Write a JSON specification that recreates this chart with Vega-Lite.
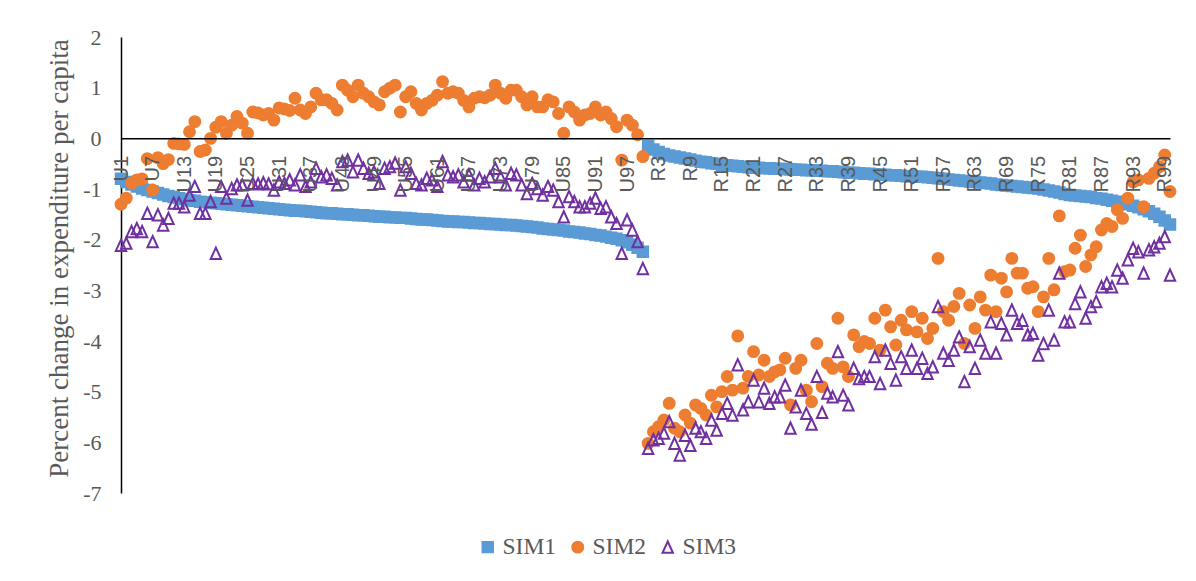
{
  "$schema": "https://vega.github.io/schema/vega-lite/v6.json",
  "width": 1049,
  "height": 456,
  "autosize": {"type": "none"},
  "padding": {"left": 121, "top": 37, "right": 26, "bottom": 88},
  "background": "white",
  "config": {
    "view": {"stroke": null},
    "legend": {
      "labelFont": "Liberation Serif", "labelFontSize": 23.5, "labelColor": "#595959",
      "labelOffset": 3, "columnPadding": 9, "symbolStrokeWidth": 2, "symbolSize": 120
    }
  },
  "data": {"values": [
    {"r":"U1","SIM1":-0.80,"SIM2":-1.30,"SIM3":-2.11},
    {"r":"U2","SIM1":-0.86,"SIM2":-1.18,"SIM3":-2.07},
    {"r":"U3","SIM1":-0.91,"SIM2":-0.88,"SIM3":-1.84},
    {"r":"U4","SIM1":-0.95,"SIM2":-0.82,"SIM3":-1.78},
    {"r":"U5","SIM1":-0.99,"SIM2":-0.80,"SIM3":-1.84},
    {"r":"U6","SIM1":-1.02,"SIM2":-0.40,"SIM3":-1.48},
    {"r":"U7","SIM1":-1.05,"SIM2":-1.02,"SIM3":-2.04},
    {"r":"U8","SIM1":-1.08,"SIM2":-0.38,"SIM3":-1.51},
    {"r":"U9","SIM1":-1.11,"SIM2":-0.50,"SIM3":-1.71},
    {"r":"U10","SIM1":-1.14,"SIM2":-0.42,"SIM3":-1.58},
    {"r":"U11","SIM1":-1.16,"SIM2":-0.10,"SIM3":-1.28},
    {"r":"U12","SIM1":-1.18,"SIM2":-0.11,"SIM3":-1.28},
    {"r":"U13","SIM1":-1.20,"SIM2":-0.12,"SIM3":-1.35},
    {"r":"U14","SIM1":-1.22,"SIM2":0.13,"SIM3":-1.12},
    {"r":"U15","SIM1":-1.23,"SIM2":0.33,"SIM3":-0.95},
    {"r":"U16","SIM1":-1.25,"SIM2":-0.26,"SIM3":-1.48},
    {"r":"U17","SIM1":-1.26,"SIM2":-0.23,"SIM3":-1.48},
    {"r":"U18","SIM1":-1.27,"SIM2":0.00,"SIM3":-1.25},
    {"r":"U19","SIM1":-1.28,"SIM2":0.22,"SIM3":-2.27},
    {"r":"U20","SIM1":-1.29,"SIM2":0.33,"SIM3":-0.95},
    {"r":"U21","SIM1":-1.30,"SIM2":0.10,"SIM3":-1.18},
    {"r":"U22","SIM1":-1.31,"SIM2":0.26,"SIM3":-0.99},
    {"r":"U23","SIM1":-1.32,"SIM2":0.43,"SIM3":-0.92},
    {"r":"U24","SIM1":-1.33,"SIM2":0.30,"SIM3":-0.92},
    {"r":"U25","SIM1":-1.34,"SIM2":0.10,"SIM3":-1.22},
    {"r":"U26","SIM1":-1.35,"SIM2":0.52,"SIM3":-0.89},
    {"r":"U27","SIM1":-1.36,"SIM2":0.50,"SIM3":-0.90},
    {"r":"U28","SIM1":-1.37,"SIM2":0.46,"SIM3":-0.88},
    {"r":"U29","SIM1":-1.38,"SIM2":0.49,"SIM3":-0.90},
    {"r":"U30","SIM1":-1.39,"SIM2":0.36,"SIM3":-1.02},
    {"r":"U31","SIM1":-1.40,"SIM2":0.60,"SIM3":-0.86},
    {"r":"U32","SIM1":-1.41,"SIM2":0.58,"SIM3":-0.89},
    {"r":"U33","SIM1":-1.42,"SIM2":0.55,"SIM3":-0.82},
    {"r":"U34","SIM1":-1.43,"SIM2":0.79,"SIM3":-0.92},
    {"r":"U35","SIM1":-1.43,"SIM2":0.56,"SIM3":-0.72},
    {"r":"U36","SIM1":-1.44,"SIM2":0.49,"SIM3":-0.95},
    {"r":"U37","SIM1":-1.45,"SIM2":0.62,"SIM3":-0.86},
    {"r":"U38","SIM1":-1.46,"SIM2":0.89,"SIM3":-0.59},
    {"r":"U39","SIM1":-1.47,"SIM2":0.76,"SIM3":-0.76},
    {"r":"U40","SIM1":-1.48,"SIM2":0.76,"SIM3":-0.72},
    {"r":"U41","SIM1":-1.48,"SIM2":0.69,"SIM3":-0.79},
    {"r":"U42","SIM1":-1.49,"SIM2":0.56,"SIM3":-0.92},
    {"r":"U43","SIM1":-1.50,"SIM2":1.05,"SIM3":-0.46},
    {"r":"U44","SIM1":-1.50,"SIM2":0.95,"SIM3":-0.43},
    {"r":"U45","SIM1":-1.51,"SIM2":0.82,"SIM3":-0.66},
    {"r":"U46","SIM1":-1.52,"SIM2":1.05,"SIM3":-0.43},
    {"r":"U47","SIM1":-1.52,"SIM2":0.89,"SIM3":-0.59},
    {"r":"U48","SIM1":-1.53,"SIM2":0.82,"SIM3":-0.69},
    {"r":"U49","SIM1":-1.54,"SIM2":0.72,"SIM3":-0.66},
    {"r":"U50","SIM1":-1.55,"SIM2":0.66,"SIM3":-0.89},
    {"r":"U51","SIM1":-1.55,"SIM2":0.92,"SIM3":-0.59},
    {"r":"U52","SIM1":-1.56,"SIM2":0.99,"SIM3":-0.56},
    {"r":"U53","SIM1":-1.56,"SIM2":1.05,"SIM3":-0.49},
    {"r":"U54","SIM1":-1.57,"SIM2":0.52,"SIM3":-1.02},
    {"r":"U55","SIM1":-1.57,"SIM2":0.82,"SIM3":-0.56},
    {"r":"U56","SIM1":-1.58,"SIM2":0.92,"SIM3":-0.69},
    {"r":"U57","SIM1":-1.59,"SIM2":0.69,"SIM3":-0.89},
    {"r":"U58","SIM1":-1.60,"SIM2":0.56,"SIM3":-0.92},
    {"r":"U59","SIM1":-1.60,"SIM2":0.69,"SIM3":-0.79},
    {"r":"U60","SIM1":-1.61,"SIM2":0.75,"SIM3":-0.82},
    {"r":"U61","SIM1":-1.62,"SIM2":0.85,"SIM3":-0.95},
    {"r":"U62","SIM1":-1.63,"SIM2":1.12,"SIM3":-0.46},
    {"r":"U63","SIM1":-1.64,"SIM2":0.89,"SIM3":-0.72},
    {"r":"U64","SIM1":-1.64,"SIM2":0.92,"SIM3":-0.76},
    {"r":"U65","SIM1":-1.65,"SIM2":0.89,"SIM3":-0.72},
    {"r":"U66","SIM1":-1.65,"SIM2":0.75,"SIM3":-0.86},
    {"r":"U67","SIM1":-1.66,"SIM2":0.62,"SIM3":-0.72},
    {"r":"U68","SIM1":-1.67,"SIM2":0.79,"SIM3":-0.92},
    {"r":"U69","SIM1":-1.67,"SIM2":0.82,"SIM3":-0.79},
    {"r":"U70","SIM1":-1.68,"SIM2":0.80,"SIM3":-0.86},
    {"r":"U71","SIM1":-1.69,"SIM2":0.85,"SIM3":-0.76},
    {"r":"U72","SIM1":-1.69,"SIM2":1.05,"SIM3":-0.59},
    {"r":"U73","SIM1":-1.70,"SIM2":0.89,"SIM3":-0.76},
    {"r":"U74","SIM1":-1.71,"SIM2":0.79,"SIM3":-0.92},
    {"r":"U75","SIM1":-1.71,"SIM2":0.95,"SIM3":-0.69},
    {"r":"U76","SIM1":-1.72,"SIM2":0.95,"SIM3":-0.72},
    {"r":"U77","SIM1":-1.73,"SIM2":0.82,"SIM3":-0.92},
    {"r":"U78","SIM1":-1.74,"SIM2":0.66,"SIM3":-1.09},
    {"r":"U79","SIM1":-1.75,"SIM2":0.82,"SIM3":-0.89},
    {"r":"U80","SIM1":-1.76,"SIM2":0.62,"SIM3":-0.99},
    {"r":"U81","SIM1":-1.78,"SIM2":0.62,"SIM3":-1.12},
    {"r":"U82","SIM1":-1.79,"SIM2":0.76,"SIM3":-0.95},
    {"r":"U83","SIM1":-1.80,"SIM2":0.72,"SIM3":-1.02},
    {"r":"U84","SIM1":-1.81,"SIM2":0.49,"SIM3":-1.25},
    {"r":"U85","SIM1":-1.82,"SIM2":0.10,"SIM3":-1.55},
    {"r":"U86","SIM1":-1.84,"SIM2":0.62,"SIM3":-1.15},
    {"r":"U87","SIM1":-1.85,"SIM2":0.52,"SIM3":-1.25},
    {"r":"U88","SIM1":-1.86,"SIM2":0.36,"SIM3":-1.35},
    {"r":"U89","SIM1":-1.88,"SIM2":0.46,"SIM3":-1.35},
    {"r":"U90","SIM1":-1.89,"SIM2":0.49,"SIM3":-1.28},
    {"r":"U91","SIM1":-1.91,"SIM2":0.62,"SIM3":-1.18},
    {"r":"U92","SIM1":-1.92,"SIM2":0.46,"SIM3":-1.38},
    {"r":"U93","SIM1":-1.94,"SIM2":0.52,"SIM3":-1.35},
    {"r":"U94","SIM1":-1.96,"SIM2":0.39,"SIM3":-1.55},
    {"r":"U95","SIM1":-1.98,"SIM2":0.23,"SIM3":-1.68},
    {"r":"U96","SIM1":-2.01,"SIM2":-0.43,"SIM3":-2.27},
    {"r":"U97","SIM1":-2.05,"SIM2":0.36,"SIM3":-1.61},
    {"r":"U98","SIM1":-2.10,"SIM2":0.26,"SIM3":-1.81},
    {"r":"U99","SIM1":-2.16,"SIM2":0.07,"SIM3":-2.04},
    {"r":"U100","SIM1":-2.24,"SIM2":-0.36,"SIM3":-2.57},
    {"r":"R1","SIM1":-0.15,"SIM2":-6.02,"SIM3":-6.12},
    {"r":"R2","SIM1":-0.22,"SIM2":-5.79,"SIM3":-5.95},
    {"r":"R3","SIM1":-0.27,"SIM2":-5.69,"SIM3":-5.92},
    {"r":"R4","SIM1":-0.31,"SIM2":-5.56,"SIM3":-5.82},
    {"r":"R5","SIM1":-0.34,"SIM2":-5.23,"SIM3":-5.59},
    {"r":"R6","SIM1":-0.36,"SIM2":-5.72,"SIM3":-6.02},
    {"r":"R7","SIM1":-0.38,"SIM2":-5.79,"SIM3":-6.25},
    {"r":"R8","SIM1":-0.40,"SIM2":-5.46,"SIM3":-5.86},
    {"r":"R9","SIM1":-0.42,"SIM2":-5.62,"SIM3":-6.06},
    {"r":"R10","SIM1":-0.44,"SIM2":-5.26,"SIM3":-5.72},
    {"r":"R11","SIM1":-0.46,"SIM2":-5.33,"SIM3":-5.79},
    {"r":"R12","SIM1":-0.47,"SIM2":-5.46,"SIM3":-5.92},
    {"r":"R13","SIM1":-0.49,"SIM2":-5.07,"SIM3":-5.56},
    {"r":"R14","SIM1":-0.50,"SIM2":-5.30,"SIM3":-5.76},
    {"r":"R15","SIM1":-0.52,"SIM2":-5.00,"SIM3":-5.43},
    {"r":"R16","SIM1":-0.53,"SIM2":-4.70,"SIM3":-5.23},
    {"r":"R17","SIM1":-0.54,"SIM2":-4.97,"SIM3":-5.46},
    {"r":"R18","SIM1":-0.55,"SIM2":-3.90,"SIM3":-4.47},
    {"r":"R19","SIM1":-0.56,"SIM2":-4.93,"SIM3":-5.36},
    {"r":"R20","SIM1":-0.57,"SIM2":-4.70,"SIM3":-5.20},
    {"r":"R21","SIM1":-0.58,"SIM2":-4.21,"SIM3":-4.77},
    {"r":"R22","SIM1":-0.58,"SIM2":-4.67,"SIM3":-5.20},
    {"r":"R23","SIM1":-0.59,"SIM2":-4.38,"SIM3":-4.93},
    {"r":"R24","SIM1":-0.59,"SIM2":-4.70,"SIM3":-5.23},
    {"r":"R25","SIM1":-0.60,"SIM2":-4.61,"SIM3":-5.10},
    {"r":"R26","SIM1":-0.60,"SIM2":-4.57,"SIM3":-5.10},
    {"r":"R27","SIM1":-0.61,"SIM2":-4.34,"SIM3":-4.87},
    {"r":"R28","SIM1":-0.61,"SIM2":-5.26,"SIM3":-5.72},
    {"r":"R29","SIM1":-0.62,"SIM2":-4.54,"SIM3":-5.30},
    {"r":"R30","SIM1":-0.62,"SIM2":-4.38,"SIM3":-4.97},
    {"r":"R31","SIM1":-0.63,"SIM2":-4.97,"SIM3":-5.43},
    {"r":"R32","SIM1":-0.63,"SIM2":-5.20,"SIM3":-5.64},
    {"r":"R33","SIM1":-0.64,"SIM2":-4.05,"SIM3":-4.70},
    {"r":"R34","SIM1":-0.64,"SIM2":-4.90,"SIM3":-5.41},
    {"r":"R35","SIM1":-0.65,"SIM2":-4.44,"SIM3":-5.03},
    {"r":"R36","SIM1":-0.65,"SIM2":-4.54,"SIM3":-5.10},
    {"r":"R37","SIM1":-0.66,"SIM2":-3.55,"SIM3":-4.21},
    {"r":"R38","SIM1":-0.67,"SIM2":-4.51,"SIM3":-5.07},
    {"r":"R39","SIM1":-0.68,"SIM2":-4.70,"SIM3":-5.26},
    {"r":"R40","SIM1":-0.68,"SIM2":-3.88,"SIM3":-4.54},
    {"r":"R41","SIM1":-0.69,"SIM2":-4.11,"SIM3":-4.74},
    {"r":"R42","SIM1":-0.70,"SIM2":-4.01,"SIM3":-4.70},
    {"r":"R43","SIM1":-0.70,"SIM2":-4.05,"SIM3":-4.70},
    {"r":"R44","SIM1":-0.71,"SIM2":-3.55,"SIM3":-4.31},
    {"r":"R45","SIM1":-0.72,"SIM2":-4.18,"SIM3":-4.84},
    {"r":"R46","SIM1":-0.72,"SIM2":-3.39,"SIM3":-4.18},
    {"r":"R47","SIM1":-0.73,"SIM2":-3.72,"SIM3":-4.44},
    {"r":"R48","SIM1":-0.73,"SIM2":-4.08,"SIM3":-4.77},
    {"r":"R49","SIM1":-0.74,"SIM2":-3.59,"SIM3":-4.31},
    {"r":"R50","SIM1":-0.75,"SIM2":-3.78,"SIM3":-4.54},
    {"r":"R51","SIM1":-0.75,"SIM2":-3.42,"SIM3":-4.18},
    {"r":"R52","SIM1":-0.76,"SIM2":-3.82,"SIM3":-4.54},
    {"r":"R53","SIM1":-0.76,"SIM2":-3.55,"SIM3":-4.34},
    {"r":"R54","SIM1":-0.77,"SIM2":-3.95,"SIM3":-4.64},
    {"r":"R55","SIM1":-0.78,"SIM2":-3.75,"SIM3":-4.51},
    {"r":"R56","SIM1":-0.79,"SIM2":-2.37,"SIM3":-3.32},
    {"r":"R57","SIM1":-0.80,"SIM2":-3.42,"SIM3":-4.24},
    {"r":"R58","SIM1":-0.81,"SIM2":-3.59,"SIM3":-4.38},
    {"r":"R59","SIM1":-0.82,"SIM2":-3.32,"SIM3":-4.18},
    {"r":"R60","SIM1":-0.83,"SIM2":-3.06,"SIM3":-3.92},
    {"r":"R61","SIM1":-0.84,"SIM2":-4.05,"SIM3":-4.80},
    {"r":"R62","SIM1":-0.85,"SIM2":-3.29,"SIM3":-4.11},
    {"r":"R63","SIM1":-0.86,"SIM2":-3.75,"SIM3":-4.54},
    {"r":"R64","SIM1":-0.87,"SIM2":-3.13,"SIM3":-3.98},
    {"r":"R65","SIM1":-0.88,"SIM2":-3.39,"SIM3":-4.24},
    {"r":"R66","SIM1":-0.89,"SIM2":-2.70,"SIM3":-3.62},
    {"r":"R67","SIM1":-0.91,"SIM2":-3.42,"SIM3":-4.24},
    {"r":"R68","SIM1":-0.92,"SIM2":-2.76,"SIM3":-3.65},
    {"r":"R69","SIM1":-0.93,"SIM2":-3.03,"SIM3":-3.88},
    {"r":"R70","SIM1":-0.94,"SIM2":-2.37,"SIM3":-3.39},
    {"r":"R71","SIM1":-0.95,"SIM2":-2.66,"SIM3":-3.65},
    {"r":"R72","SIM1":-0.96,"SIM2":-2.66,"SIM3":-3.59},
    {"r":"R73","SIM1":-0.97,"SIM2":-2.96,"SIM3":-3.88},
    {"r":"R74","SIM1":-0.98,"SIM2":-2.93,"SIM3":-3.85},
    {"r":"R75","SIM1":-0.99,"SIM2":-3.42,"SIM3":-4.28},
    {"r":"R76","SIM1":-1.01,"SIM2":-3.13,"SIM3":-4.05},
    {"r":"R77","SIM1":-1.03,"SIM2":-2.37,"SIM3":-3.39},
    {"r":"R78","SIM1":-1.05,"SIM2":-2.99,"SIM3":-3.98},
    {"r":"R79","SIM1":-1.07,"SIM2":-1.53,"SIM3":-2.66},
    {"r":"R80","SIM1":-1.10,"SIM2":-2.63,"SIM3":-3.62},
    {"r":"R81","SIM1":-1.12,"SIM2":-2.60,"SIM3":-3.62},
    {"r":"R82","SIM1":-1.13,"SIM2":-2.17,"SIM3":-3.26},
    {"r":"R83","SIM1":-1.14,"SIM2":-1.91,"SIM3":-3.03},
    {"r":"R84","SIM1":-1.15,"SIM2":-2.53,"SIM3":-3.55},
    {"r":"R85","SIM1":-1.16,"SIM2":-2.30,"SIM3":-3.32},
    {"r":"R86","SIM1":-1.18,"SIM2":-2.14,"SIM3":-3.22},
    {"r":"R87","SIM1":-1.19,"SIM2":-1.81,"SIM3":-2.93},
    {"r":"R88","SIM1":-1.21,"SIM2":-1.68,"SIM3":-2.86},
    {"r":"R89","SIM1":-1.23,"SIM2":-1.74,"SIM3":-2.93},
    {"r":"R90","SIM1":-1.25,"SIM2":-1.41,"SIM3":-2.60},
    {"r":"R91","SIM1":-1.27,"SIM2":-1.58,"SIM3":-2.76},
    {"r":"R92","SIM1":-1.30,"SIM2":-1.18,"SIM3":-2.40},
    {"r":"R93","SIM1":-1.33,"SIM2":-0.86,"SIM3":-2.17},
    {"r":"R94","SIM1":-1.36,"SIM2":-0.82,"SIM3":-2.24},
    {"r":"R95","SIM1":-1.40,"SIM2":-1.35,"SIM3":-2.66},
    {"r":"R96","SIM1":-1.44,"SIM2":-0.79,"SIM3":-2.20},
    {"r":"R97","SIM1":-1.49,"SIM2":-0.69,"SIM3":-2.14},
    {"r":"R98","SIM1":-1.55,"SIM2":-0.56,"SIM3":-2.07},
    {"r":"R99","SIM1":-1.62,"SIM2":-0.33,"SIM3":-1.94},
    {"r":"R100","SIM1":-1.70,"SIM2":-1.05,"SIM3":-2.70}
  ]},
  "transform": [{"fold": ["SIM1", "SIM2", "SIM3"], "as": ["series", "value"]}],
  "mark": {"type": "point", "opacity": 1, "strokeWidth": 2},
  "encoding": {
    "x": {
      "field": "r", "type": "ordinal", "sort": null,
      "scale": {"type": "point", "padding": 0},
      "axis": {
        "title": null, "orient": "bottom", "offset": -354.67, "zindex": 1,
        "values": ["U1","U7","U13","U19","U25","U31","U37","U43","U49","U55","U61","U67","U73","U79","U85","U91","U97","R3","R9","R15","R21","R27","R33","R39","R45","R51","R57","R63","R69","R75","R81","R87","R93","R99"],
        "labelAngle": 270, "labelAlign": "right", "labelBaseline": "middle",
        "labelPadding": 17, "ticks": false, "tickSize": 0,
        "domainColor": "#000000", "domainWidth": 1.5, "grid": false,
        "labelFont": "Liberation Sans", "labelFontSize": 20, "labelColor": "#595959",
        "labelOverlap": false
      }
    },
    "y": {
      "field": "value", "type": "quantitative",
      "scale": {"domain": [-7, 2], "nice": false, "zero": false},
      "axis": {
        "title": "Percent change in expenditure per capita",
        "values": [-7, -6, -5, -4, -3, -2, -1, 0, 1, 2],
        "labelExpr": "'' + datum.value",
        "ticks": false, "tickSize": 0, "labelPadding": 20,
        "domainColor": "#000000", "domainWidth": 1.5, "grid": false,
        "labelFont": "Liberation Serif", "labelFontSize": 22, "labelColor": "#595959",
        "titleFont": "Liberation Serif", "titleFontSize": 27, "titleFontWeight": "normal",
        "titleColor": "#595959", "titlePadding": 9, "titleY": 221
      }
    },
    "shape": {
      "field": "series", "type": "nominal",
      "scale": {"domain": ["SIM1", "SIM2", "SIM3"], "range": ["square", "circle", "M0,-1L0.92,1L-0.92,1Z"]},
      "legend": {
        "title": null, "orient": "none", "direction": "horizontal",
        "legendX": 355, "legendY": 498,
        "labelFont": "Liberation Serif", "labelFontSize": 23.5, "labelColor": "#595959",
        "labelOffset": 3, "columnPadding": 9, "symbolStrokeWidth": 2, "symbolSize": 120
      }
    },
    "fill": {
      "field": "series", "type": "nominal",
      "scale": {"domain": ["SIM1", "SIM2", "SIM3"], "range": ["#5B9BD5", "#ED7D31", "transparent"]},
      "legend": {
        "title": null, "orient": "none", "direction": "horizontal",
        "legendX": 355, "legendY": 498,
        "labelFont": "Liberation Serif", "labelFontSize": 23.5, "labelColor": "#595959",
        "labelOffset": 3, "columnPadding": 9, "symbolStrokeWidth": 2, "symbolSize": 120
      }
    },
    "stroke": {
      "field": "series", "type": "nominal",
      "scale": {"domain": ["SIM1", "SIM2", "SIM3"], "range": ["#5B9BD5", "#ED7D31", "#7030A0"]},
      "legend": {
        "title": null, "orient": "none", "direction": "horizontal",
        "legendX": 355, "legendY": 498,
        "labelFont": "Liberation Serif", "labelFontSize": 23.5, "labelColor": "#595959",
        "labelOffset": 3, "columnPadding": 9, "symbolStrokeWidth": 2, "symbolSize": 120
      }
    },
    "size": {
      "field": "series", "type": "nominal",
      "scale": {"domain": ["SIM1", "SIM2", "SIM3"], "range": [110, 128, 169]},
      "legend": {
        "title": null, "orient": "none", "direction": "horizontal",
        "legendX": 355, "legendY": 498,
        "labelFont": "Liberation Serif", "labelFontSize": 23.5, "labelColor": "#595959",
        "labelOffset": 3, "columnPadding": 9, "symbolStrokeWidth": 2, "symbolSize": 120
      }
    },
    "order": {"field": "series", "type": "ordinal"}
  }
}
